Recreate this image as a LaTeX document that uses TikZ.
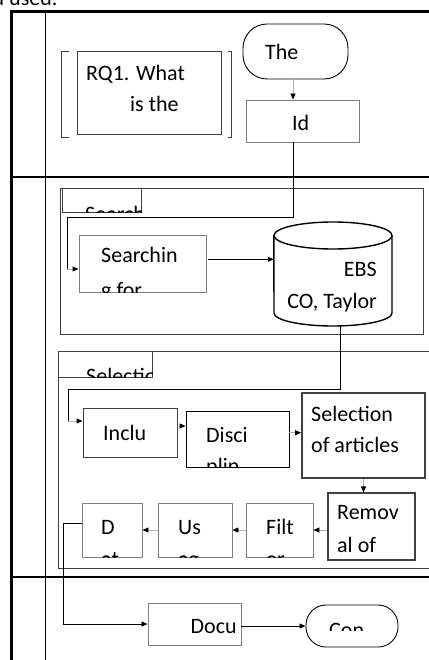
\documentclass[tikz,border=0pt]{standalone}
\usepackage{fontspec}
\setmainfont{Carlito}
\usetikzlibrary{arrows.meta,calc}

\definecolor{lgray}{HTML}{B0B0B0}
\definecolor{mgray}{HTML}{7F7F7F}
\definecolor{dgray}{HTML}{404040}

\begin{document}
\begin{tikzpicture}[x=1pt, y=-1pt, line join=miter, >={Triangle[length=6pt,width=5pt,color=black]},
    box/.style={draw=mgray, line width=0.9pt, inner sep=0pt},
    txt/.style={inner sep=0pt, anchor=base west, font=\fontsize{22}{26}\selectfont},
    arr/.style={->, line width=0.8pt, draw=black},
    garr/.style={->, line width=0.9pt, draw=lgray}]
    \useasboundingbox (0,0) rectangle (428,660);
    \fill[white] (0,0) rectangle (428,660);

    % Text left over from the page above
    \node[txt] (prev) at (-7.5,6) {d used.};

    % Swimlane frame
    \draw[line width=2.4pt] (11.5,670) -- (11.5,11.5) -- (440,11.5);
    \draw[line width=2.4pt] (11.5,177) -- (440,177);
    \draw[line width=2.4pt] (11.5,577) -- (440,577);
    \draw[line width=0.9pt] (45,11.5) -- (45,670);

    % Lane 1: research questions
    \draw[dgray, line width=0.9pt] (69,51) -- (61,51) -- (61,137) -- (69,137);
    \draw[dgray, line width=0.9pt] (228,51) -- (231,51) -- (231,137) -- (228,137);
    \node[box, draw=dgray, line width=1pt, minimum width=144pt, minimum height=83pt] (rq) at (149,93.5) {};
    \node[txt] (rqa) at (86,80.5) {RQ1. What};
    \node[txt] (rqb) at (130,111.5) {is the};

    \node[box, draw=black, rounded corners=24pt, minimum width=105pt, minimum height=55pt] (the) at (295.5,51.5) {};
    \node[txt] (thet) at (265,60) {The};

    \node[box, minimum width=113pt, minimum height=42pt] (id) at (302.5,121) {};
    \node[txt] (idt) at (292,130.5) {Id};

    \draw[garr] ([xshift=-2.5pt]the.south) -- ([xshift=-2.5pt]the.south |- id.north);

    % Lane 2: searching
    \node[box, draw=dgray, minimum width=363pt, minimum height=146pt] (sgrp) at (241.5,261) {};
    \node[box, draw=dgray, minimum width=79pt, minimum height=24pt] (stab) at (101.5,200) {};
    \begin{scope}
        \clip (stab.north west) rectangle (stab.south east);
        \node[txt] (stabt) at (85,221) {Search};
    \end{scope}

    \node[box, minimum width=127pt, minimum height=57pt] (srch) at (142.5,263.5) {};
    \begin{scope}
        \clip (srch.north west) rectangle (srch.south east);
        \node[txt] (srcha) at (101,262.5) {Searchin};
        \node[txt] (srchb) at (101,297) {g for};
    \end{scope}

    % database cylinder
    \node[inner sep=0pt, minimum width=118pt, minimum height=104pt] (db) at (333,274) {};
    \draw[black, line width=1.4pt] (db.north west) ++(0,13.5) -- (274,313) arc (180:0:59 and 13) -- (392,235.5);
    \draw[black, line width=1.4pt] (333,235.5) ellipse (59 and 13.5);
    \node[txt, anchor=base east] (dba) at (377,276.7) {EBS};
    \node[txt, anchor=base east] (dbb) at (377,308) {CO, Taylor};

    \coordinate (k1) at (67,217);
    \coordinate (k2) at (67,269);
    \draw[line width=0.8pt] ([xshift=-9.5pt]id.south) |- (k1) -- (k2);
    \draw[garr] (k2) -- (k2 -| srch.west);
    \draw[arr] ([yshift=4.2pt]srch.east) ++(2,0) -- ([yshift=4.2pt]srch.east -| db.west);

    % selection group
    \node[box, draw=dgray, minimum width=382pt, minimum height=216.5pt] (lgrp) at (249,459.75) {};
    \node[box, draw=dgray, minimum width=94pt, minimum height=26pt] (ltab) at (105,364.5) {};
    \begin{scope}
        \clip (ltab.north west) rectangle (ltab.south east);
        \node[txt] (ltabt) at (86,383.5) {Selection};
    \end{scope}

    \node[box, draw=dgray, minimum width=94pt, minimum height=49pt] (incl) at (130,432.5) {};
    \node[txt] (inclt) at (103,440) {Inclu};

    \node[box, draw=black, minimum width=103pt, minimum height=56pt] (disc) at (237.5,439) {};
    \begin{scope}
        \clip (disc.north west) rectangle (disc.south east);
        \node[txt] (disca) at (206,442) {Disci};
        \node[txt] (discb) at (206,473) {plin};
    \end{scope}

    \node[box, draw=dgray, line width=1.6pt, minimum width=123pt, minimum height=85pt] (sel) at (363.5,435.5) {};
    \node[txt] (sela) at (311,421.7) {Selection};
    \node[txt] (selb) at (311,452.5) {of articles};

    \node[box, draw=dgray, line width=1.2pt, minimum width=87pt, minimum height=67pt] (rem) at (371.5,526.5) {};
    \node[txt] (rema) at (337,519) {Remov};
    \node[txt] (remb) at (337,552) {al of};

    \node[box, minimum width=67pt, minimum height=54pt] (filt) at (279.5,530) {};
    \node[box, minimum width=74pt, minimum height=54pt] (us) at (195,530) {};
    \node[box, minimum width=60pt, minimum height=54pt] (dat) at (112,530) {};
    \begin{scope}
        \clip (filt.north west) rectangle (filt.south east);
        \node[txt] (filta) at (266,534.5) {Filt};
        \node[txt] (filtb) at (266,566) {er};
    \end{scope}
    \begin{scope}
        \clip (us.north west) rectangle (us.south east);
        \node[txt] (usa) at (178,534.5) {Us};
        \node[txt] (usb) at (178,566) {ag};
    \end{scope}
    \begin{scope}
        \clip (dat.north west) rectangle (dat.south east);
        \node[txt] (data) at (101,534.5) {D};
        \node[txt] (datb) at (101,566) {at};
    \end{scope}

    \coordinate (k3) at (68,389);
    \coordinate (k4) at (68,421);
    \draw[line width=0.8pt] ([xshift=7pt]db.south) |- (k3) -- (k4);
    \draw[garr] (k4) -- (k4 -| incl.west);
    \draw[garr] ([yshift=6.5pt]incl.east) -- ([yshift=6.5pt]incl.east -| disc.west);
    \draw[garr] ([yshift=6.3pt]disc.east) -- ([yshift=6.3pt]disc.east -| sel.west);
    \draw[garr] (sel.south) -- (sel.south |- rem.north);
    \draw[garr] (rem.west |- filt.east) -- (filt.east);
    \draw[garr] (filt.west) -- (us.east);
    \draw[garr] (us.west) -- (dat.east);

    % Lane 3: documentation
    \node[box, minimum width=93pt, minimum height=42pt] (docu) at (194.5,624) {};
    \node[txt] (docut) at (190.5,633.3) {Docu};

    \node[box, draw=black, rounded corners=20pt, minimum width=92pt, minimum height=42pt] (con) at (352,626) {};
    \begin{scope}
        \clip (con.west) ++(0,-30) rectangle (398,630.7);
        \node[txt] (cont) at (329,637) {Con};
    \end{scope}

    \coordinate (k5) at (63,624);
    \draw[arr] ([yshift=7pt]dat.west) -| (k5) -- (docu.west);
    \draw[arr] (docu.east |- con.west) -- (con.west);
\end{tikzpicture}
\end{document}
